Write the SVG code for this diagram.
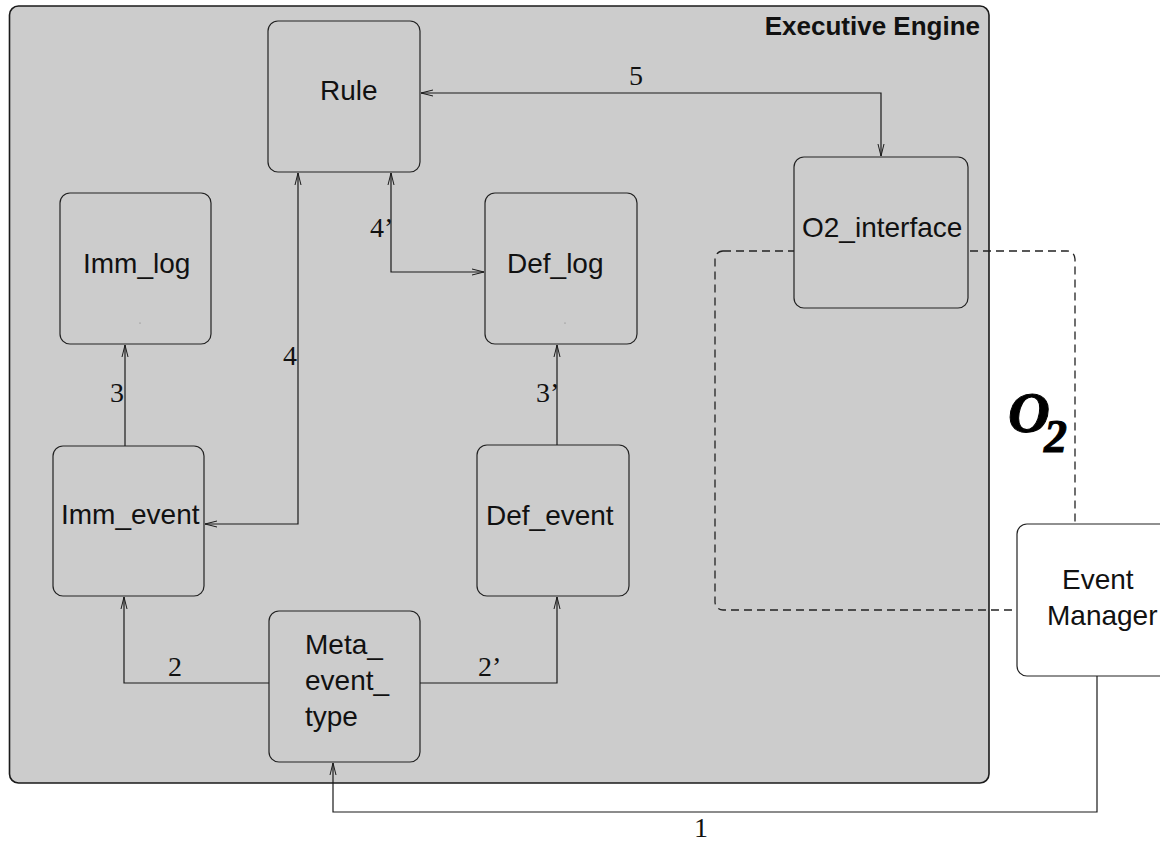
<svg xmlns="http://www.w3.org/2000/svg" width="1160" height="843" viewBox="0 0 1160 843">
  <style>
    .node { fill: #cccccc; stroke: #222222; stroke-width: 1.2; }
    .node-white { fill: #ffffff; stroke: #222222; stroke-width: 1.2; }
    .label { font-family: "Liberation Sans", Arial, sans-serif; font-size: 28px; fill: #111111; }
    .num { font-family: "Liberation Serif", "Times New Roman", serif; font-size: 28px; fill: #111111; }
    .title { font-family: "Liberation Sans", Arial, sans-serif; font-size: 26px; font-weight: bold; fill: #111111; }
    .conn { fill: none; stroke: #1a1a1a; stroke-width: 1.2; }
    .dash { fill: none; stroke: #222222; stroke-width: 1.3; stroke-dasharray: 8 5; }
    .logo { font-family: "Liberation Serif", "Times New Roman", serif; font-weight: bold; font-style: italic; fill: #000000; }
  </style>
  <defs>
    <marker id="arrow" viewBox="0 0 14 8" refX="12" refY="4" markerWidth="14" markerHeight="8" markerUnits="userSpaceOnUse" orient="auto-start-reverse">
      <path d="M0,1 L12,4 L0,7" fill="none" stroke="#1a1a1a" stroke-width="1"/>
    </marker>
  </defs>

  <rect width="1160" height="843" fill="#ffffff"/>

  <!-- Executive Engine container -->
  <g id="executive-engine">
    <rect x="9.5" y="6" width="979.5" height="777" rx="9" fill="#cccccc" stroke="#1a1a1a" stroke-width="1.6"/>
    <text class="title" x="980" y="35" text-anchor="end">Executive Engine</text>
  </g>

  <!-- O2 boundary -->
  <g id="o2-boundary">
    <rect class="dash" x="715" y="251" width="360" height="359" rx="8"/>
    <text class="logo" x="1008" y="432" font-size="58" stroke="#000000" stroke-width="1">O<tspan dx="-6" dy="20" font-size="46">2</tspan></text>
  </g>

  <!-- Connectors -->
  <g id="connectors">
    <path class="conn" d="M421,93 L881,93 L881,156" marker-start="url(#arrow)" marker-end="url(#arrow)"/>
    <path class="conn" d="M205,524 L298,524 L298,173" marker-start="url(#arrow)" marker-end="url(#arrow)"/>
    <path class="conn" d="M391,173 L391,272 L484,272" marker-start="url(#arrow)" marker-end="url(#arrow)"/>
    <path class="conn" d="M125,446 L125,345" marker-end="url(#arrow)"/>
    <path class="conn" d="M557,445 L557,345" marker-end="url(#arrow)"/>
    <path class="conn" d="M269,683 L124,683 L124,597" marker-end="url(#arrow)"/>
    <path class="conn" d="M420,683 L557,683 L557,597" marker-end="url(#arrow)"/>
    <path class="conn" d="M1097,676 L1097,812 L333,812 L333,763" marker-end="url(#arrow)"/>
    <text class="num" x="629" y="85">5</text>
    <text class="num" x="370" y="237">4’</text>
    <text class="num" x="283" y="365">4</text>
    <text class="num" x="110" y="402">3</text>
    <text class="num" x="536" y="402">3’</text>
    <text class="num" x="168" y="676">2</text>
    <text class="num" x="478" y="676">2’</text>
    <text class="num" x="694" y="837">1</text>
  </g>

  <!-- Nodes -->
  <g id="rule">
    <rect class="node" x="268" y="21" width="152" height="151" rx="10"/>
    <text class="label" x="320" y="100">Rule</text>
  </g>

  <g id="o2-interface">
    <rect class="node" x="794" y="157" width="174" height="151" rx="10"/>
    <text class="label" x="802" y="237">O2_interface</text>
  </g>

  <g id="imm-log">
    <rect class="node" x="60" y="193" width="151" height="151" rx="10"/>
    <text class="label" x="83" y="273">Imm_log</text>
    <circle cx="140" cy="323" r="0.6" fill="#777777"/>
  </g>

  <g id="def-log">
    <rect class="node" x="485" y="193" width="152" height="151" rx="10"/>
    <text class="label" x="507" y="273">Def_log</text>
    <circle cx="565" cy="323" r="0.6" fill="#777777"/>
  </g>

  <g id="imm-event">
    <rect class="node" x="53" y="446" width="151" height="150" rx="10"/>
    <text class="label" x="61" y="524">Imm_event</text>
  </g>

  <g id="def-event">
    <rect class="node" x="477" y="445" width="152" height="151" rx="10"/>
    <text class="label" x="486" y="525">Def_event</text>
  </g>

  <g id="meta-event-type">
    <rect class="node" x="269" y="611" width="151" height="151" rx="10"/>
    <text class="label" x="305" y="654">Meta_</text>
    <text class="label" x="305" y="690">event_</text>
    <text class="label" x="305" y="726">type</text>
  </g>

  <g id="event-manager">
    <rect class="node-white" x="1017" y="524" width="170" height="152" rx="10"/>
    <text class="label" x="1062" y="589">Event</text>
    <text class="label" x="1047" y="625">Manager</text>
  </g>
</svg>
